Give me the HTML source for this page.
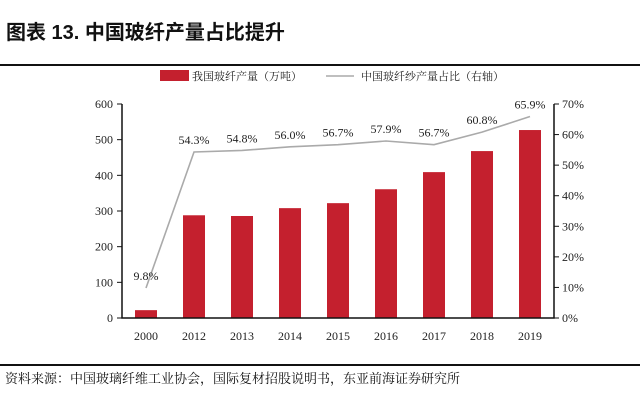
<!DOCTYPE html>
<html><head><meta charset="utf-8"><style>
body{margin:0;background:#fff;width:640px;height:404px;overflow:hidden;font-family:"Liberation Serif","Noto Serif CJK SC",serif}
</style></head><body>
<svg width="640" height="404" xmlns="http://www.w3.org/2000/svg">
<text x="6" y="39" font-size="20" font-weight="bold" font-family="'Liberation Sans','Noto Sans CJK SC',sans-serif" fill="#111">图表 13. 中国玻纤产量占比提升</text>
<rect x="0" y="64" width="640" height="2" fill="#111"/>
<g>
<rect x="160" y="70" width="29" height="11" fill="#c4202e"/>
<text x="192" y="80" font-size="11" fill="#222">我国玻纤产量（万吨）</text>
<line x1="326" y1="76" x2="354" y2="76" stroke="#aaa" stroke-width="1.5"/>
<text x="361" y="80" font-size="11" fill="#222">中国玻纤纱产量占比（右轴）</text>
</g>
<g id="plot"></g>
<rect x="0" y="364" width="640" height="2" fill="#111"/>
<text x="5" y="383" font-size="13" fill="#111">资料来源：中国玻璃纤维工业协会，国际复材招股说明书，东亚前海证券研究所</text>
</svg>
<script>
const categories=["2000","2012","2013","2014","2015","2016","2017","2018","2019"];
const outputValues=[22,288,286,308,322,361,409,468,527];
const shareValues=[9.8,54.3,54.8,56.0,56.7,57.9,56.7,60.8,65.9];
const leftTicks=[0,100,200,300,400,500,600];
const rightTicks=[0,10,20,30,40,50,60,70];
const NS="http://www.w3.org/2000/svg";
const g=document.getElementById('plot');
const X0=122,X1=554,Y0=318,Y1=104;
const step=(X1-X0)/categories.length;
const xc=i=>X0+step*(i+0.5);
const yL=v=>Y0-(v/600)*(Y0-Y1);
const yR=v=>Y0-(v/70)*(Y0-Y1);
function mk(t,a){const e=document.createElementNS(NS,t);for(const k in a)e.setAttribute(k,a[k]);g.appendChild(e);return e;}
outputValues.forEach((v,i)=>{
const r=mk('rect',{x:xc(i)-11,y:yL(v),width:22,height:Y0-yL(v),fill:'#c4202e'});


});
const pl=mk('polyline',{points:shareValues.map((v,i)=>xc(i)+','+yR(v)).join(' '),fill:'none',stroke:'#aaa','stroke-width':1.6});


shareValues.forEach((v,i)=>{
const t=mk('text',{x:xc(i),y:yR(v)-8,'font-size':12,'text-anchor':'middle',fill:'#222'});
t.textContent=v.toFixed(1)+'%';


});
const ax=mk('path',{d:`M${X0},${Y1}V${Y0}H${X1}V${Y1}`,fill:'none',stroke:'#111','stroke-width':1.5});


leftTicks.forEach(v=>{
mk('line',{x1:X0-5,x2:X0,y1:yL(v),y2:yL(v),stroke:'#111'});
const t=mk('text',{x:X0-9,y:yL(v)+4,'font-size':12,'text-anchor':'end',fill:'#222'});
t.textContent=v;


});
rightTicks.forEach(v=>{
mk('line',{x1:X1,x2:X1+5,y1:yR(v),y2:yR(v),stroke:'#111'});
const t=mk('text',{x:X1+8,y:yR(v)+4,'font-size':12,fill:'#222'});
t.textContent=v+'%';


});
categories.forEach((c,i)=>{
const t=mk('text',{x:xc(i),y:340,'font-size':12,'text-anchor':'middle',fill:'#222'});
t.textContent=c;


});
</script>
</body></html>
